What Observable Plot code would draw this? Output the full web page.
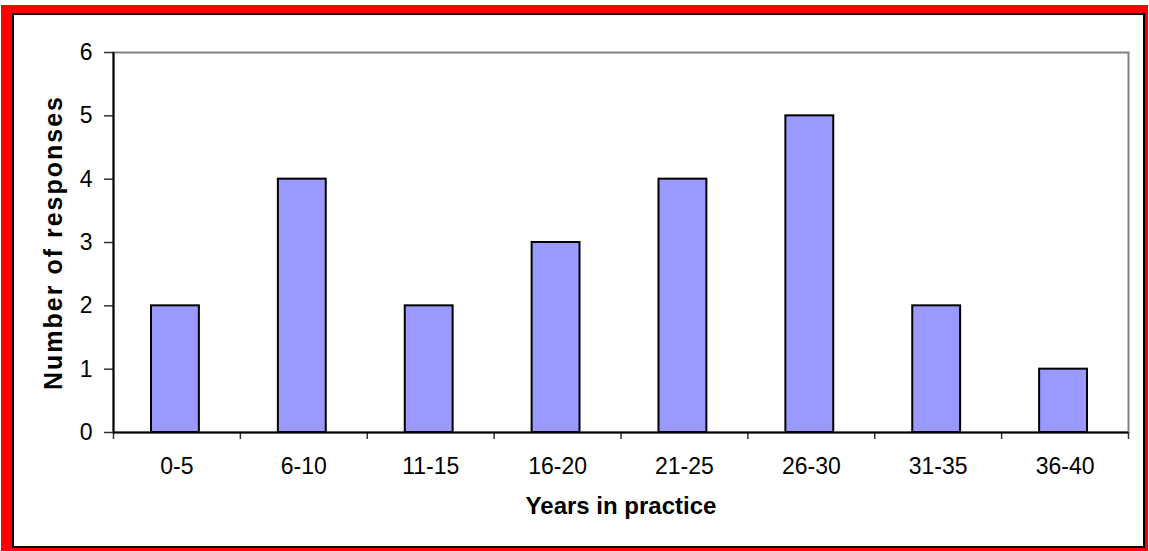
<!DOCTYPE html>
<html>
<head>
<meta charset="utf-8">
<script src="https://cdn.jsdelivr.net/npm/d3@7"></script>
<script src="https://cdn.jsdelivr.net/npm/@observablehq/plot@0.6"></script>
<style>
  html, body { margin: 0; padding: 0; background: white; }
  #wrap { position: relative; width: 1149px; height: 552px; overflow: hidden; }
  #chart { position: absolute; left: 0; top: 0; }
  #redbox {
    position: absolute; left: 1px; top: 5px; width: 1147px; height: 546px;
    box-sizing: border-box;
    border-style: solid; border-color: #ff0000;
    border-width: 8px 3px 3px 11px;
  }
  #blackbox {
    position: absolute; left: 0; top: 0; right: 0; bottom: 0;
    box-sizing: border-box; border: 2px solid #000;
  }
</style>
</head>
<body>
<div id="wrap">
  <div id="chart"></div>
  <div id="redbox"><div id="blackbox"></div></div>
</div>
<script>
const categories = ["0-5", "6-10", "11-15", "16-20", "21-25", "26-30", "31-35", "36-40"];
const responses = [2, 4, 2, 3, 4, 5, 2, 1];
const yTicks = [0, 1, 2, 3, 4, 5, 6];
const xTitle = "Years in practice";
const yTitle = "Number of responses";

const data = categories.map((c, i) => ({c, i, v: responses[i]}));
const bounds = d3.range(categories.length + 1);
const centers = categories.map((c, i) => i + 0.5);

const chart = Plot.plot({
  width: 1149,
  height: 552,
  marginLeft: 113,
  marginRight: 21,
  marginTop: 52,
  marginBottom: 120,
  style: {fontFamily: "'Liberation Sans', Arial, sans-serif", fontSize: "22px", background: "transparent", color: "black"},
  x: {domain: [0, categories.length]},
  y: {domain: [0, 6]},
  marks: [
    Plot.frame({stroke: "#808080", strokeWidth: 2}),
    Plot.rectY(data, {x1: "i", x2: d => d.i + 1, y: "v", insetLeft: 38, insetRight: 41, fill: "#9999FF", stroke: "black", strokeWidth: 2}),
    Plot.axisY({ticks: yTicks, tickSize: 9, tickPadding: 12, tickFormat: d => String(d), label: null, stroke: "#333", strokeWidth: 1.5, fill: "black", fontSize: 23}),
    Plot.axisX({ticks: bounds, tickSize: 7, tickFormat: () => "", label: null, stroke: "#333", strokeWidth: 1.5}),
    Plot.axisX({ticks: centers, tickSize: 0, tickPadding: 25, tickFormat: x => categories[Math.floor(x)], label: null, fill: "black", fontSize: 23}),
    Plot.ruleY([0], {stroke: "black", strokeWidth: 2}),
    Plot.ruleX([0], {stroke: "black", strokeWidth: 2}),
    Plot.text([yTitle], {frameAnchor: "left", text: d => d, rotate: -90, textAnchor: "middle", dx: -60, dy: 0, fontWeight: "bold", fontSize: 25, fill: "black"}),
    Plot.text([xTitle], {frameAnchor: "bottom", text: d => d, textAnchor: "middle", dy: 81, fontWeight: "bold", fontSize: 24, fill: "black"})
  ]
});
d3.select(chart).selectAll("text")
  .filter(function() { return this.textContent === yTitle; })
  .attr("letter-spacing", "2px");
document.getElementById("chart").appendChild(chart);
</script>
</body>
</html>
